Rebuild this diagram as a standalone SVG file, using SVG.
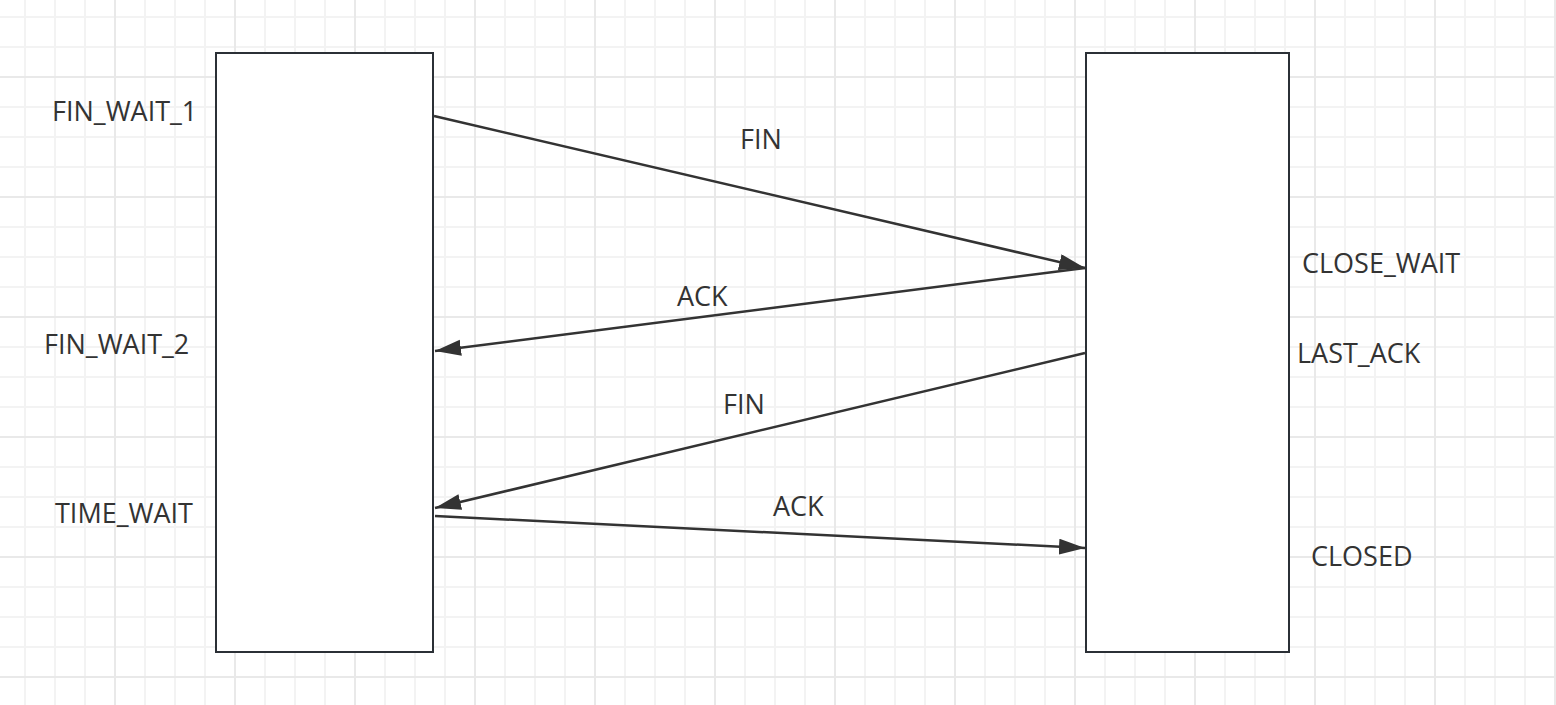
<svg xmlns="http://www.w3.org/2000/svg" width="1556" height="705" viewBox="0 0 1556 705">
<style>
.lbl{font-family:"Open Sans","Noto Sans","Liberation Sans",sans-serif;font-size:27px;fill:#333333}
.box{fill:#ffffff;stroke:#2b3036;stroke-width:2}
.edge{fill:none;stroke:#333333;stroke-width:2.5}
</style>
<defs>
<pattern id="minor" patternUnits="userSpaceOnUse" x="24" y="16" width="30" height="30">
<rect x="0" y="0" width="2" height="30" fill="#f3f3f3"/>
<rect x="0" y="0" width="30" height="2" fill="#f3f3f3"/>
</pattern>
<pattern id="major" patternUnits="userSpaceOnUse" x="114" y="76" width="120" height="120">
<rect x="0" y="0" width="2" height="120" fill="#e9e9e9"/>
<rect x="0" y="0" width="120" height="2" fill="#e9e9e9"/>
</pattern>
<marker id="arr" markerUnits="userSpaceOnUse" markerWidth="28" markerHeight="18" refX="26" refY="8" orient="auto">
<path d="M0,0 L26,8 L0,16 Z" fill="#333333"/>
</marker>
</defs>
<rect width="1556" height="705" fill="#ffffff"/>
<rect width="1556" height="705" fill="url(#minor)"/>
<rect width="1556" height="705" fill="url(#major)"/>
<g id="client">
<rect class="box" x="216" y="53" width="217" height="599"/>
</g>
<g id="server">
<rect class="box" x="1086" y="53" width="203" height="599"/>
</g>
<g id="connectors">
<line class="edge" x1="434" y1="116" x2="1085" y2="268" marker-end="url(#arr)"/>
<line class="edge" x1="1085" y1="268" x2="435" y2="351" marker-end="url(#arr)"/>
<line class="edge" x1="1085" y1="353" x2="435" y2="508" marker-end="url(#arr)"/>
<line class="edge" x1="435" y1="516" x2="1085" y2="548" marker-end="url(#arr)"/>
</g>
<g id="labels">
<text class="lbl" x="52" y="121">FIN_WAIT_1</text>
<text class="lbl" x="44" y="354">FIN_WAIT_2</text>
<text class="lbl" x="55" y="523">TIME_WAIT</text>
<text class="lbl" x="740" y="149">FIN</text>
<text class="lbl" x="677" y="306">ACK</text>
<text class="lbl" x="723" y="414">FIN</text>
<text class="lbl" x="773" y="516">ACK</text>
<text class="lbl" x="1302" y="273">CLOSE_WAIT</text>
<text class="lbl" x="1297" y="363">LAST_ACK</text>
<text class="lbl" x="1311" y="566">CLOSED</text>
</g>
</svg>
